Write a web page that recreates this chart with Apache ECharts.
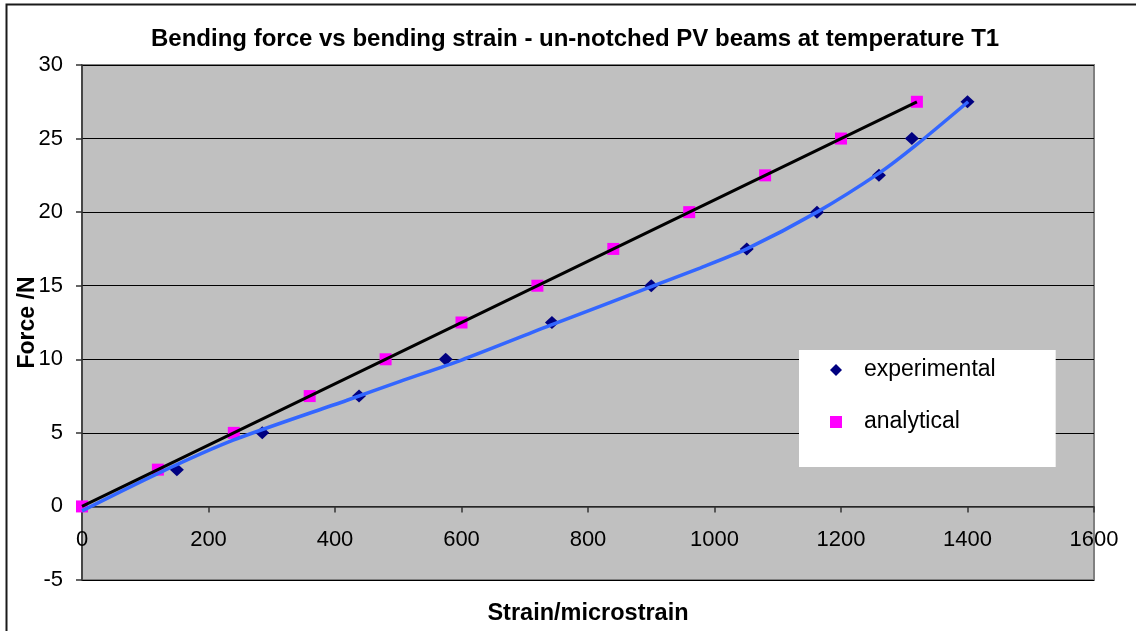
<!DOCTYPE html>
<html>
<head>
<meta charset="utf-8">
<title>Bending force vs bending strain</title>
<script src="https://cdn.jsdelivr.net/npm/echarts@6/dist/echarts.min.js"></script>
<style>
  html, body { margin: 0; padding: 0; background: #fff; }
  #chart { width: 1136px; height: 631px; }
</style>
</head>
<body>
<div id="chart"></div>
<script>
// Measured points (strain in microstrain, force in N)
const expStrain = [150, 285, 438, 575, 743, 900, 1051, 1162, 1260, 1312, 1400];
const expForce  = [2.5, 5, 7.5, 10, 12.5, 15, 17.5, 20, 22.5, 25, 27.5];

// Analytical prediction
const anaStrain = [0, 120, 240, 360, 480, 600, 720, 840, 960, 1080, 1200, 1320];
const anaForce  = [0, 2.5, 5, 7.5, 10, 12.5, 15, 17.5, 20, 22.5, 25, 27.5];

// Fitted trend through the measured points
const expTrendStrain = [0, 118, 239, 418, 503, 600, 740, 898, 977, 1051, 1162, 1262, 1320, 1401];
const expTrendForce  = [-0.3, 2.2, 4.5, 7.2, 8.5, 9.95, 12.3, 14.9, 16.2, 17.5, 20.0, 22.7, 24.6, 27.5];

// Linear fit of the analytical values
const anaTrendStrain = [0, 1320];
const anaTrendForce  = [0, 27.5];

// Axis ticks
const xTicks = { min: 0, max: 1600, step: 200 };
const yTicks = { min: -5, max: 30, step: 5 };

const zip = (xs, ys) => xs.map((x, i) => [x, ys[i]]);
const FONT = '"Liberation Sans", Arial, sans-serif';

// Plot box
const GRID = { left: 82, right: 42, top: 65, bottom: 51 };
const CHART_H = 631;
const plotH = CHART_H - GRID.top - GRID.bottom;
// The strain axis is drawn where force = 0 (shifted up from the bottom edge)
const xAxisShift = -((0 - yTicks.min) / (yTicks.max - yTicks.min)) * plotH;

const chart = echarts.init(document.getElementById('chart'), null, { renderer: 'canvas' });

chart.setOption({
  animation: false,
  backgroundColor: '#ffffff',
  title: {
    text: 'Bending force vs bending strain - un-notched PV beams at temperature T1',
    left: 146,
    top: 22,
    textStyle: { fontFamily: FONT, fontSize: 24, fontWeight: 'bold', color: '#000' }
  },
  graphic: [{
    type: 'rect',
    shape: { x: 6.5, y: 4.5, width: 1200, height: 700 },
    style: { fill: 'none', stroke: '#1a1a1a', lineWidth: 2 },
    silent: true, z: -10
  }],
  grid: {
    left: GRID.left, right: GRID.right, top: GRID.top, bottom: GRID.bottom,
    outerBoundsMode: 'none',
    containLabel: false,
    show: true,
    backgroundColor: '#c0c0c0',
    borderColor: '#808080',
    borderWidth: 2
  },
  legend: {
    orient: 'vertical',
    left: 799, top: 350,
    backgroundColor: '#ffffff',
    padding: [8, 60, 33, 31],
    itemGap: 28,
    itemWidth: 12, itemHeight: 12,
    data: ['experimental', 'analytical'],
    textStyle: { fontFamily: FONT, fontSize: 23, color: '#000', lineHeight: 24, padding: [0, 0, 0, 17] }
  },
  xAxis: {
    type: 'value',
    min: xTicks.min, max: xTicks.max, interval: xTicks.step,
    offset: xAxisShift,
    name: 'Strain/microstrain',
    nameLocation: 'middle',
    nameGap: 95,
    nameMoveOverlap: false,
    nameTextStyle: { fontFamily: FONT, fontSize: 23.5, fontWeight: 'bold', color: '#000' },
    axisLine: { show: true, onZero: false, lineStyle: { color: '#333', width: 1.5 } },
    axisTick: { show: true, inside: false, length: 6, lineStyle: { color: '#333', width: 1.5 } },
    axisLabel: { fontFamily: FONT, fontSize: 22, color: '#000', margin: 23, formatter: v => String(v) },
    splitLine: { show: false }
  },
  yAxis: {
    type: 'value',
    min: yTicks.min, max: yTicks.max, interval: yTicks.step,
    name: 'Force /N',
    nameLocation: 'middle',
    nameGap: 43,
    nameMoveOverlap: false,
    nameTextStyle: { fontFamily: FONT, fontSize: 23, fontWeight: 'bold', color: '#000' },
    axisLine: { show: true, onZero: false, lineStyle: { color: '#333', width: 1.5 } },
    axisTick: { show: true, inside: false, length: 6, lineStyle: { color: '#333', width: 1.5 } },
    axisLabel: { fontFamily: FONT, fontSize: 22, color: '#000', margin: 19, formatter: v => String(v) },
    splitLine: { show: true, lineStyle: { color: '#000', width: 1 } }
  },
  series: [
    {
      name: 'experimental',
      type: 'scatter',
      symbol: 'diamond',
      symbolSize: [14, 13],
      itemStyle: { color: '#000080', opacity: 1 },
      data: zip(expStrain, expForce),
      z: 3
    },
    {
      name: 'analytical',
      type: 'scatter',
      symbol: 'rect',
      symbolSize: 12,
      itemStyle: { color: '#ff00ff', opacity: 1 },
      data: zip(anaStrain, anaForce),
      z: 3
    },
    {
      name: 'experimental trend',
      type: 'line',
      smooth: 0.25,
      showSymbol: false,
      lineStyle: { color: '#3366ff', width: 3.5 },
      data: zip(expTrendStrain, expTrendForce),
      z: 4
    },
    {
      name: 'analytical trend',
      type: 'line',
      showSymbol: false,
      lineStyle: { color: '#000000', width: 3 },
      data: zip(anaTrendStrain, anaTrendForce),
      z: 4
    }
  ]
});
</script>
</body>
</html>
